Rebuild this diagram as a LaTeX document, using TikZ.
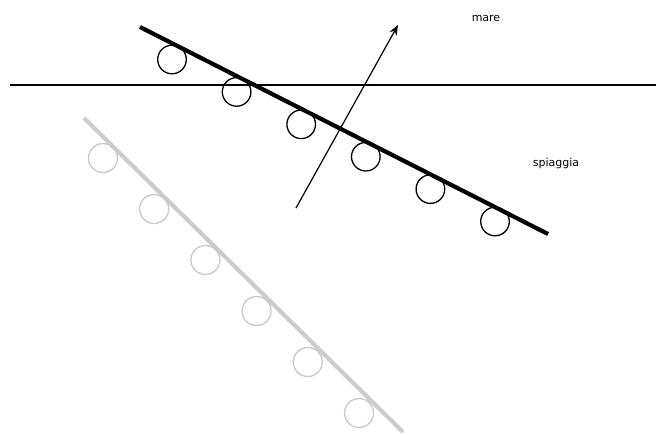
\documentclass[tikz,border=0pt]{standalone}
\usepackage{fontspec}
\setmainfont{DejaVu Sans}
\usetikzlibrary{arrows.meta}
\begin{document}
\begin{tikzpicture}[x=1pt,y=-1pt,
  thinline/.style={line width=1.2pt,black},
  beachline/.style={line width=4.2pt,black},
  ghostline/.style={line width=4.2pt,color={rgb,255:red,204;green,204;blue,204}},
  roller/.style={line width=1.3pt,black},
  ghostroller/.style={line width=1.3pt,color={rgb,255:red,200;green,200;blue,200}},
  lbl/.style={font=\fontsize{11}{13}\selectfont,anchor=base,inner sep=0pt}]
\useasboundingbox (0,0) rectangle (656,434);
% horizon
\coordinate (hL) at (10,85);
\coordinate (hR) at (656,85);
\draw[thinline] (hL) -- (hR);
% ghost (previous position)
\coordinate (gA) at (84,118);
\coordinate (gB) at (403,432);
\draw[ghostline] (gA) -- (gB);
\foreach \i in {0,...,5}{
  \draw[ghostroller] ({103+51.2*\i},{158+51*\i}) circle (14.5);
}
% current position
\coordinate (bA) at (140,27);
\coordinate (bB) at (548,234);
\draw[beachline] (bA) -- (bB);
\foreach \i in {0,...,5}{
  \draw[roller] ({172+64.6*\i},{59.5+32.4*\i}) circle (14.3);
}
% arrow
\coordinate (aS) at (296,208);
\coordinate (aE) at (398,25);
\draw[thinline,-{Stealth[length=10pt,width=8pt,inset=3pt]}] (aS) -- (aE);
% labels
\node[lbl] (mare) at (486,21) {mare};
\node[lbl] (spiaggia) at (556,166) {spiaggia};
\end{tikzpicture}
\end{document}
